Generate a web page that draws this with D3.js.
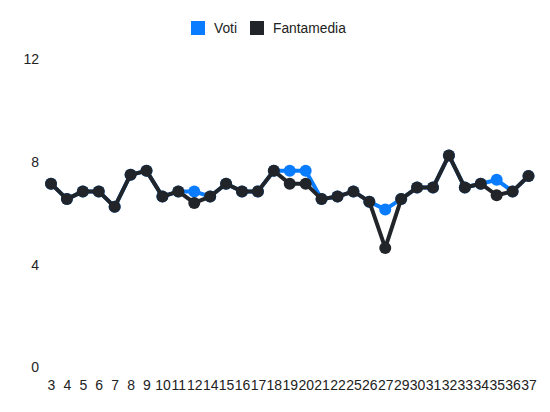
<!DOCTYPE html>
<html>
<head>
<meta charset="utf-8">
<script src="https://cdn.jsdelivr.net/npm/d3@7"></script>
<style>
  body { margin: 0; background: #fff; }
  text { font-family: "Liberation Sans", Arial, Helvetica, sans-serif; }
</style>
</head>
<body>
<svg id="chart" width="550" height="412"></svg>
<script>
const giornate = ['3','4','5','6','7','8','9','10','11','12','14','15','16','17','18','19','20','21','22','25','26','27','29','30','31','32','33','34','35','36','37'];
const voti =       [7.15, 6.55, 6.85, 6.85, 6.25, 7.5, 7.65, 6.65, 6.85, 6.85, 6.65, 7.15, 6.85, 6.85, 7.65, 7.65, 7.65, 6.55, 6.65, 6.85, 6.45, 6.15, 6.55, 7.0, 7.0, 8.25, 7.0, 7.15, 7.3, 6.85, 7.45];
const fantamedia = [7.15, 6.55, 6.85, 6.85, 6.25, 7.5, 7.65, 6.65, 6.85, 6.4, 6.65, 7.15, 6.85, 6.85, 7.65, 7.15, 7.15, 6.55, 6.65, 6.85, 6.45, 4.65, 6.55, 7.0, 7.0, 8.25, 7.0, 7.15, 6.7, 6.85, 7.45];
const yTicks = [0, 4, 8, 12];

const series = [
  { name: 'Voti', values: voti, color: '#0a7cff' },
  { name: 'Fantamedia', values: fantamedia, color: '#212529' }
];

const svg = d3.select('#chart');

const x = d3.scalePoint().domain(giornate).range([51, 528.5]);
const y = d3.scaleLinear().domain([0, 12]).range([367.5, 59]);

// y labels
const yAxis = d3.axisLeft(y).tickValues(yTicks).tickSize(0).tickPadding(0);
const gy = svg.append('g').attr('transform', 'translate(39,0)').call(yAxis);
gy.select('.domain').remove();
gy.selectAll('text').attr('font-size', 14).attr('fill', '#222')
  .attr('font-family', '"Liberation Sans", Arial, sans-serif');

// x labels
const xAxis = d3.axisBottom(x).tickSize(0).tickPadding(0);
const gx = svg.append('g').attr('transform', 'translate(0,380)').call(xAxis);
gx.select('.domain').remove();
gx.selectAll('text').attr('font-size', 14).attr('fill', '#222')
  .attr('font-family', '"Liberation Sans", Arial, sans-serif');

const line = d3.line()
  .x((d, i) => x(giornate[i]))
  .y(d => y(d));

series.forEach(s => {
  const g = svg.append('g');
  g.append('path')
    .datum(s.values)
    .attr('d', line)
    .attr('fill', 'none')
    .attr('stroke', s.color)
    .attr('stroke-width', 4)
    .attr('stroke-linejoin', 'round');
  g.selectAll('circle')
    .data(s.values)
    .enter()
    .append('circle')
    .attr('cx', (d, i) => x(giornate[i]))
    .attr('cy', d => y(d))
    .attr('r', 6)
    .attr('fill', s.color);
});

// legend
const legendPos = [191, 250];
const legend = svg.append('g');
series.forEach((s, i) => {
  const lg = legend.append('g').attr('transform', `translate(${legendPos[i]},21)`);
  lg.append('rect')
    .attr('width', 14)
    .attr('height', 14)
    .attr('fill', s.color);
  lg.append('text')
    .attr('x', 23)
    .attr('y', 12)
    .attr('font-size', 13.8)
    .attr('fill', '#222')
    .text(s.name);
});
</script>
</body>
</html>
